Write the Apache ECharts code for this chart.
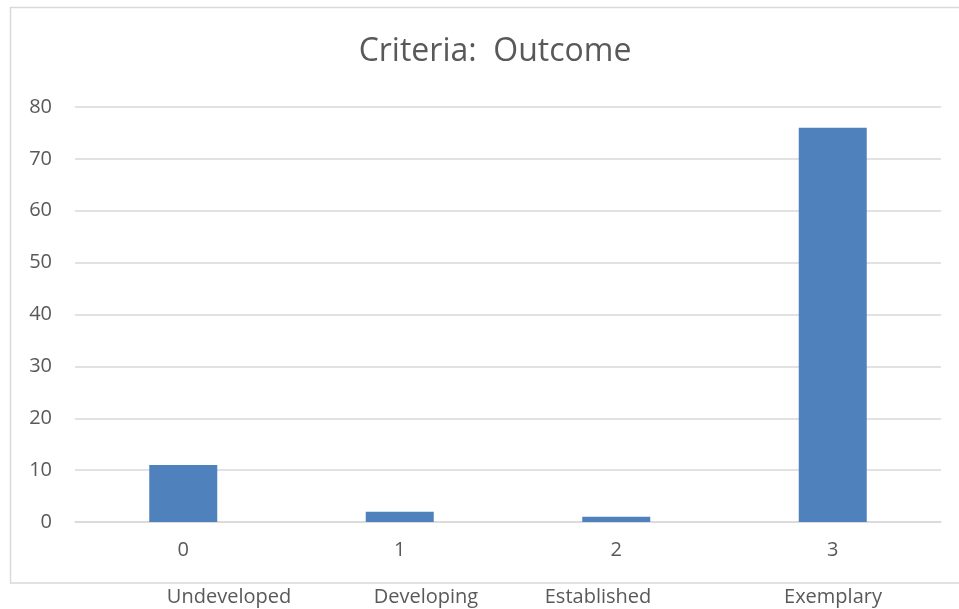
<!DOCTYPE html>
<html>
<head>
<meta charset="utf-8">
<script src="https://cdn.jsdelivr.net/npm/echarts@6/dist/echarts.min.js"></script>
<style>
html, body { margin: 0; padding: 0; background: #fff; }
#chart { width: 959px; height: 609px; }
</style>
</head>
<body>
<div id="chart"></div>
<script>
// data
const categories = ['0', '1', '2', '3']
const counts = [11, 2, 1, 76]
const levelNames = ['Undeveloped', 'Developing', 'Established', 'Exemplary']
const yTicks = [0, 10, 20, 30, 40, 50, 60, 70, 80]

const font = '"Open Sans", "Liberation Sans", sans-serif'
const textColor = '#595959'
const gridColor = '#d9d9d9'

// level names sit under the frame, not centred on the categories
const levelX = [229, 426, 598, 833]

const chart = echarts.init(document.getElementById('chart'))

const option = {
    backgroundColor: '#fff',
    animation: false,
    title: {
        text: 'Criteria:  Outcome',
        left: 490,
        top: 31,
        textAlign: 'center',
        textStyle: {
            fontFamily: font,
            fontSize: 32,
            fontWeight: 'normal',
            color: textColor
        }
    },
    grid: {
        left: 75,
        right: 18,
        top: 107,
        bottom: 87
    },
    xAxis: {
        type: 'category',
        data: categories,
        axisLine: { lineStyle: { color: gridColor, width: 1.5 } },
        axisTick: { show: false },
        axisLabel: {
            margin: 18,
            fontFamily: font,
            fontSize: 20,
            color: textColor
        }
    },
    yAxis: {
        type: 'value',
        min: yTicks[0],
        max: yTicks[yTicks.length - 1],
        interval: 10,
        axisLine: { show: false },
        axisTick: { show: false },
        splitLine: { lineStyle: { color: gridColor, width: 1.5 } },
        axisLabel: {
            margin: 23,
            fontFamily: font,
            fontSize: 20,
            color: textColor
        }
    },
    series: [
        {
            type: 'bar',
            data: counts,
            barWidth: 68,
            itemStyle: { color: '#4f81bd' }
        }
    ],
    graphic: [
        {
            type: 'rect',
            shape: { x: 10.5, y: 7.5, width: 1000, height: 575.5 },
            style: { fill: 'none', stroke: gridColor, lineWidth: 1.5 },
            silent: true
        },
        ...levelNames.map((name, i) => ({
            type: 'text',
            x: levelX[i],
            y: 597,
            style: {
                text: name,
                font: '20px ' + font,
                fill: textColor,
                textAlign: 'center',
                textVerticalAlign: 'middle'
            }
        }))
    ]
}

chart.setOption(option)
</script>
</body>
</html>
